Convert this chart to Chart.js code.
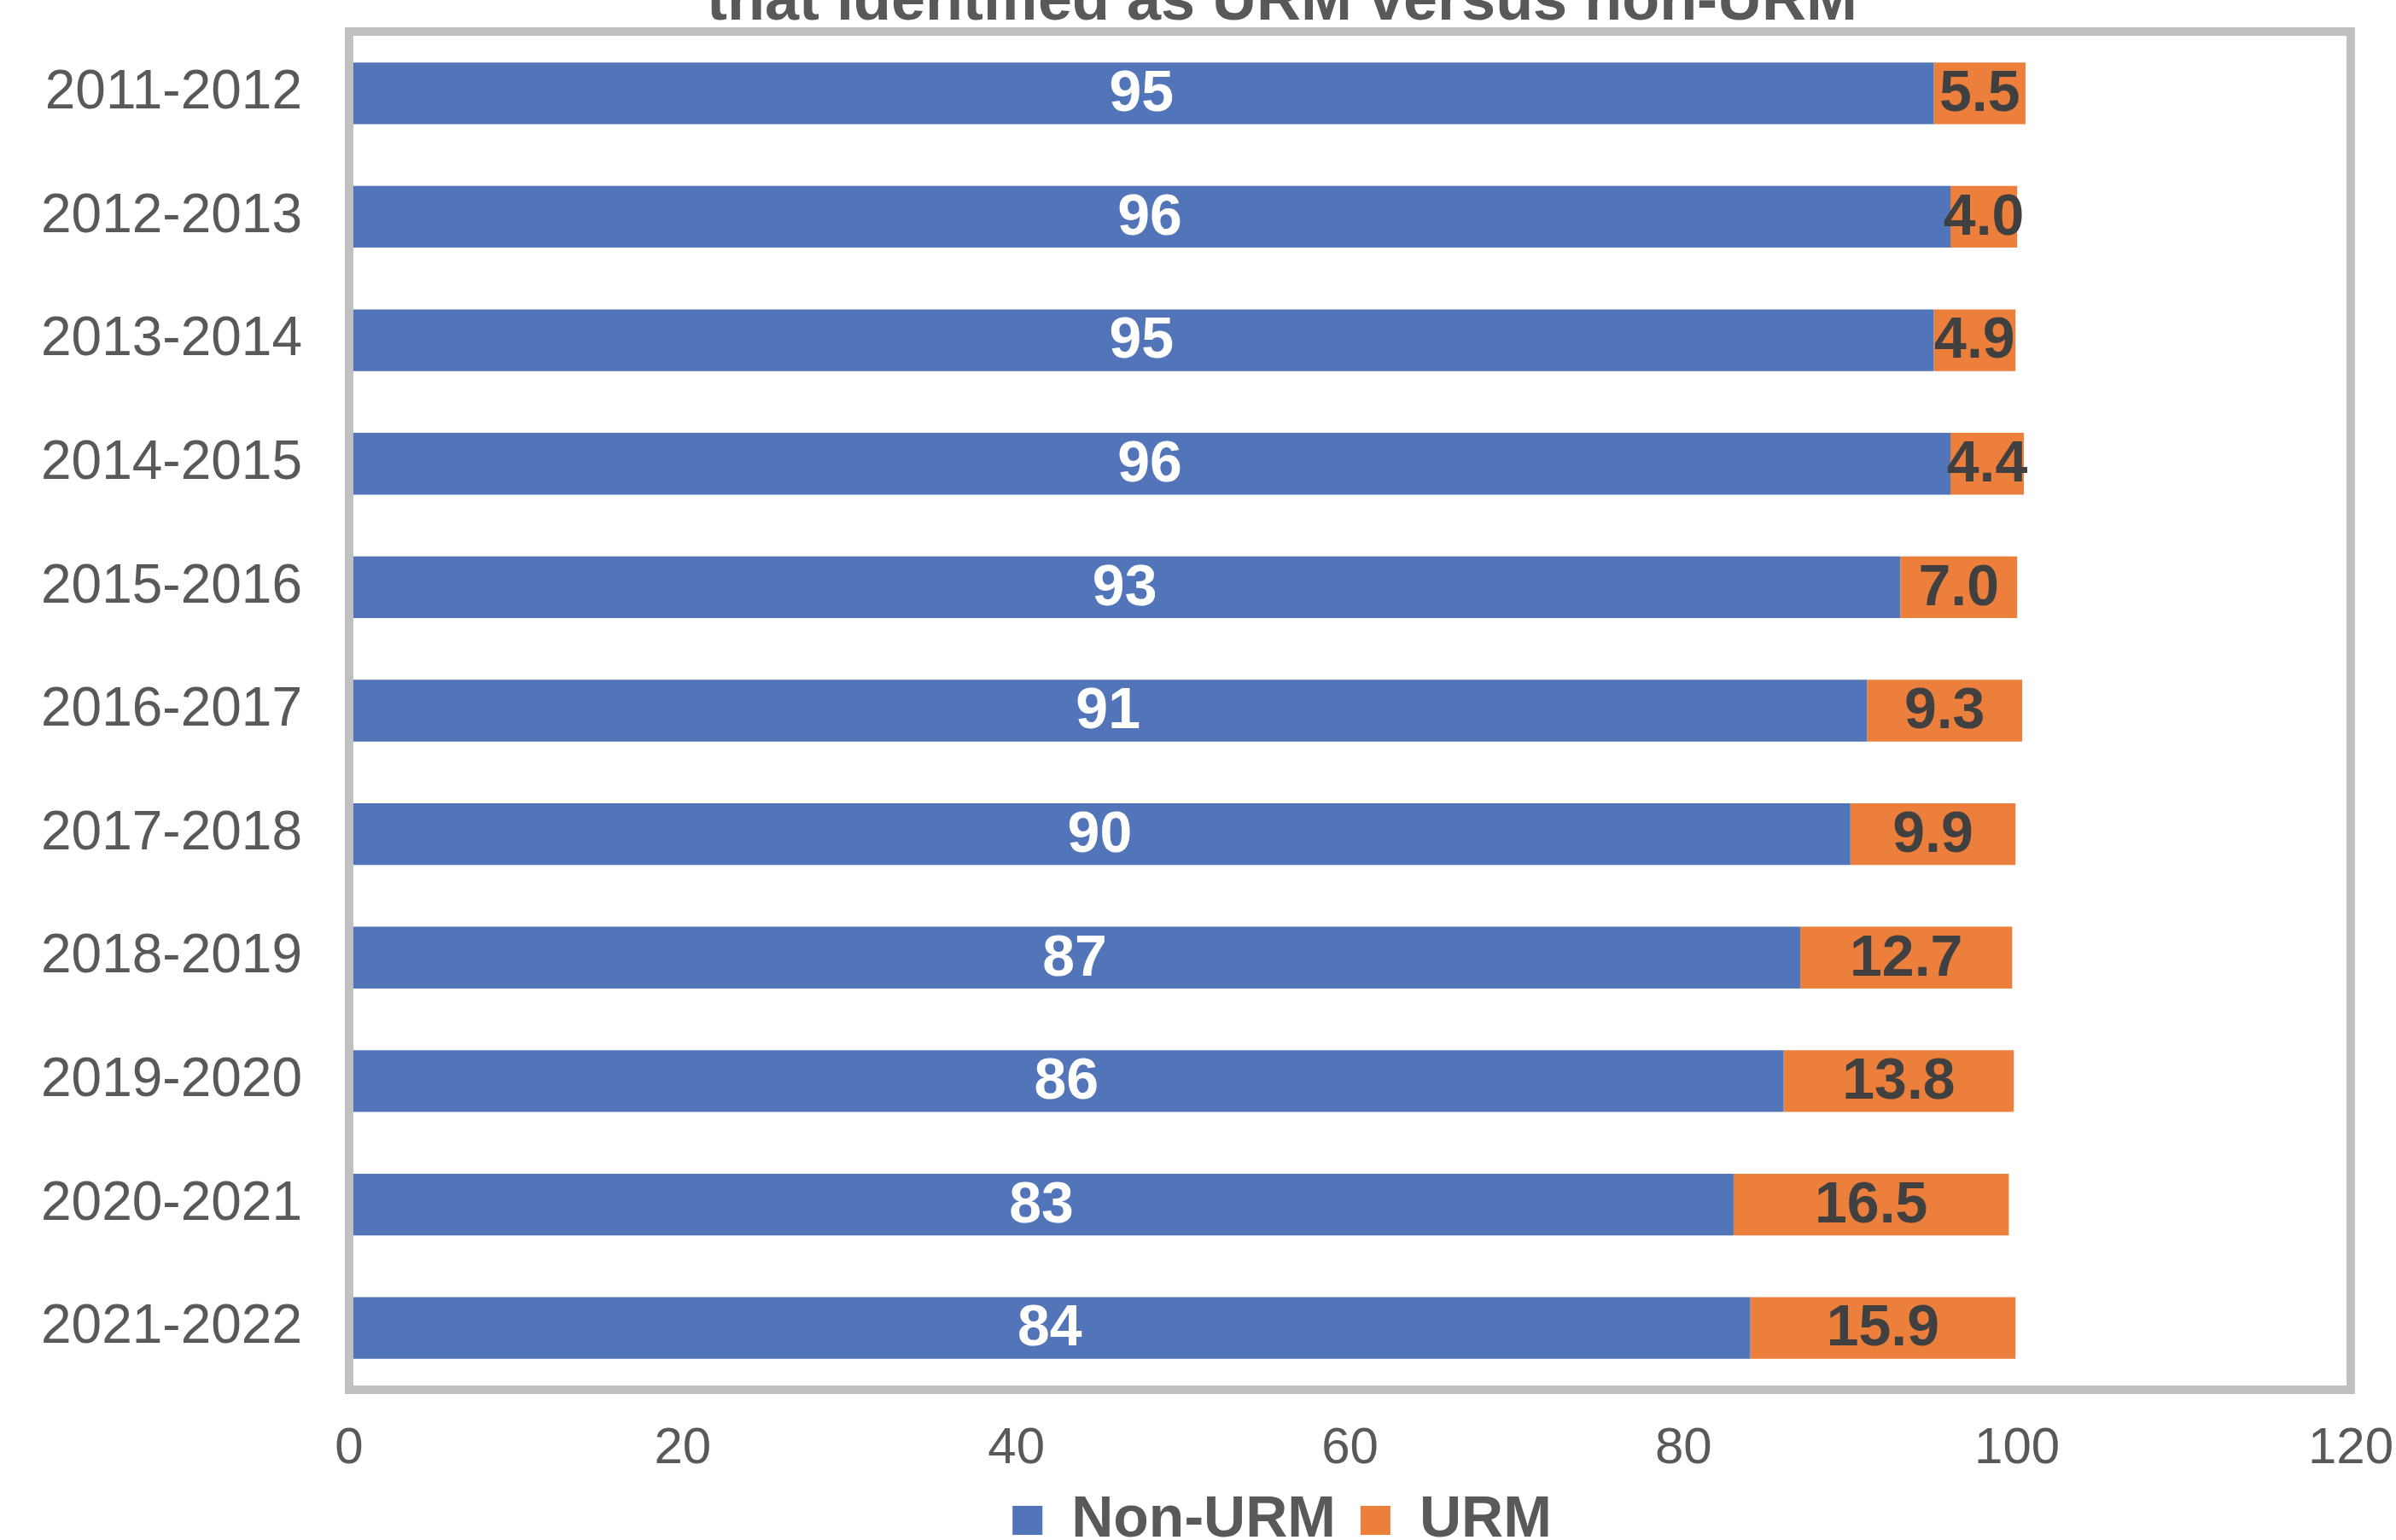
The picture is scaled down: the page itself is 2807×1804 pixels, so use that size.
<!DOCTYPE html>
<html>
<head>
<meta charset="utf-8">
<script src="https://cdn.jsdelivr.net/npm/chart.js@4/dist/chart.umd.min.js"></script>
<style>
  html, body { margin: 0; padding: 0; background: #fff; overflow: hidden; }
  #wrap { position: relative; width: 2807px; height: 1804px; overflow: hidden; }
  #urm_chart { position: absolute; left: 0; top: -64px; }
</style>
</head>
<body>
<div id="wrap">
  <!-- canvas runs past the right edge so title and legend sit a bit right of centre -->
  <canvas id="urm_chart" width="3004" height="1889"></canvas>
</div>
<script>
// academic years (top to bottom)
const years = ['2011-2012', '2012-2013', '2013-2014', '2014-2015', '2015-2016', '2016-2017',
    '2017-2018', '2018-2019', '2019-2020', '2020-2021', '2021-2022'];
// percent non-URM / URM
const nonUrm = [95, 96, 95, 96, 93, 91, 90, 87, 86, 83, 84];
const urm = [5.5, 4.0, 4.9, 4.4, 7.0, 9.3, 9.9, 12.7, 13.8, 16.5, 15.9];
// x axis tick labels
const xTicks = [0, 20, 40, 60, 80, 100, 120];

const greyText = '#595959';
const fontName = "'Liberation Sans', Arial, sans-serif";
const extraRight = 3004 - 2807;

// grey frame round the plot area
const frame = {
    id: 'frame',
    afterDatasetsDraw(chart) {
        let a = chart.chartArea;
        let c = chart.ctx;
        c.save();
        c.strokeStyle = '#c0c0c0';
        c.lineWidth = 10;
        c.strokeRect(a.left, a.top, a.right - a.left, a.bottom - a.top);
        c.restore();
    }
};

// values written in the middle of each bar segment
const barLabels = {
    id: 'barLabels',
    afterDatasetsDraw(chart) {
        let c = chart.ctx;
        c.save();
        c.font = 'bold 68px ' + fontName;
        c.textAlign = 'center';
        c.textBaseline = 'middle';
        chart.data.datasets.forEach(function (ds, i) {
            let meta = chart.getDatasetMeta(i);
            meta.data.forEach(function (bar, j) {
                let v = ds.data[j];
                let txt = i == 0 ? String(Math.round(v)) : v.toFixed(1);
                c.fillStyle = i == 0 ? '#ffffff' : '#404040';
                c.fillText(txt, (bar.x + bar.base) / 2, bar.y + 2);
            });
        });
        c.restore();
    }
};

let ctx = document.getElementById('urm_chart');

var urm_chart = new Chart(ctx, {
    type: 'bar',
    plugins: [frame, barLabels],
    data: {
        labels: years,
        datasets: [{
            label: 'Non-URM',
            data: nonUrm,
            backgroundColor: '#5274b8'
        }, {
            label: 'URM',
            data: urm,
            backgroundColor: '#ed7f3d'
        }]
    },
    options: {
        indexAxis: 'y',
        responsive: false,
        animation: false,
        layout: {
            padding: { left: 0, right: 0, top: 0, bottom: 0 }
        },
        datasets: {
            bar: {
                categoryPercentage: 0.5,
                barPercentage: 1.0,
                borderWidth: 0
            }
        },
        scales: {
            x: {
                stacked: true,
                min: xTicks[0],
                max: xTicks[xTicks.length - 1],
                grid: { display: false, drawTicks: false },
                border: { display: false },
                afterFit: function (scale) {
                    scale.height = 90;
                    scale.paddingRight = 53 + extraRight;
                },
                ticks: {
                    stepSize: xTicks[1] - xTicks[0],
                    maxRotation: 0,
                    padding: 33,
                    color: greyText,
                    font: { family: fontName, size: 60, lineHeight: 1.2 }
                }
            },
            y: {
                stacked: true,
                grid: { display: false, drawTicks: false },
                border: { display: false },
                afterFit: function (scale) {
                    scale.width = 409;
                },
                ticks: {
                    padding: 55,
                    color: greyText,
                    font: { family: fontName, size: 64 }
                }
            }
        },
        plugins: {
            title: {
                display: true,
                text: 'that identified as URM versus non-URM',
                color: greyText,
                font: { family: fontName, size: 72, weight: 'bold', lineHeight: 1 },
                padding: { top: 31, bottom: -2 }
            },
            legend: {
                position: 'bottom',
                labels: {
                    boxWidth: 35,
                    boxHeight: 34,
                    padding: 29,
                    color: greyText,
                    font: { family: fontName, size: 68, weight: 'bold' }
                }
            },
            tooltip: { enabled: false }
        }
    }
});
</script>
</body>
</html>
